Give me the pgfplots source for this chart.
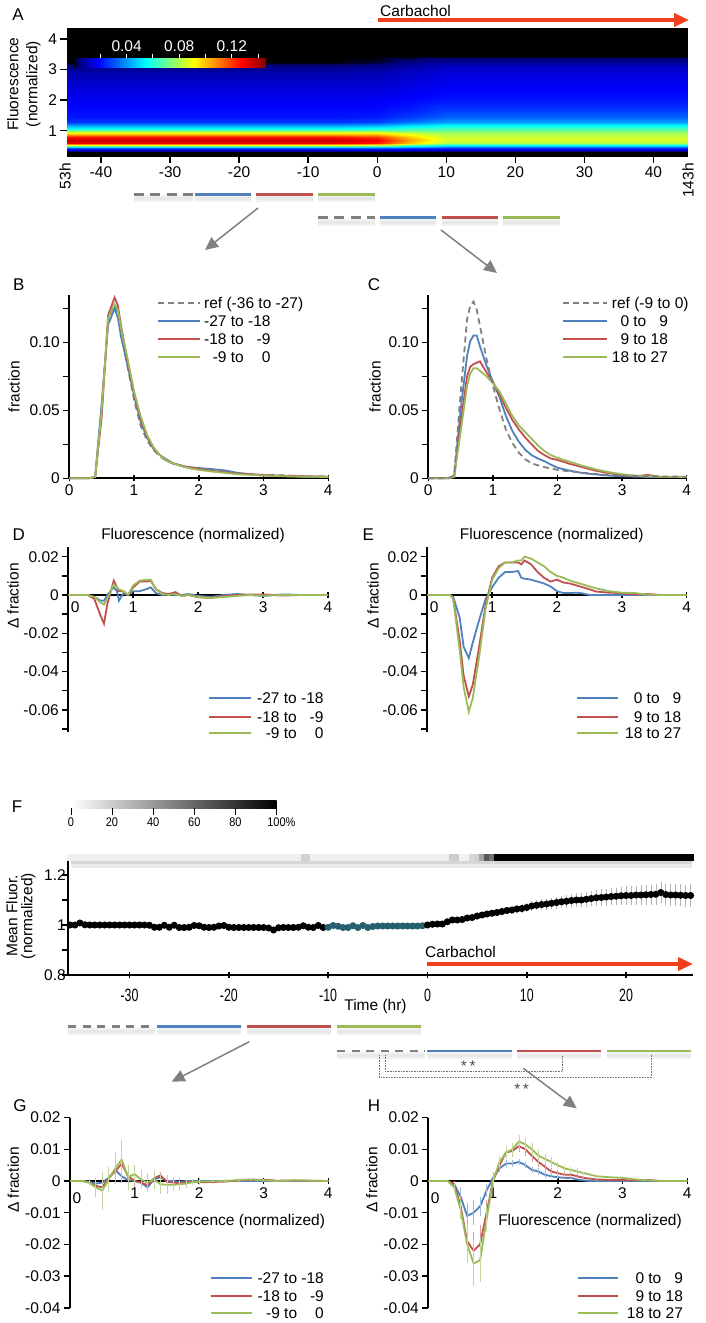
\documentclass[border=0pt]{standalone}
\usepackage{fontspec}
\setmainfont{Liberation Sans}
\usepackage{pgfplots}
\usepackage{pgfplotstable}
\pgfplotsset{compat=1.18}
\usetikzlibrary{arrows.meta}

\newcommand{\fs}{\fontsize{15.5}{18}\selectfont}
\definecolor{sblue}{RGB}{79,129,189}
\definecolor{sred}{RGB}{192,80,77}
\definecolor{sgreen}{RGB}{155,187,89}
\definecolor{sgray}{RGB}{128,128,128}
\definecolor{carb}{RGB}{240,64,30}
\definecolor{tealpt}{RGB}{38,96,110}

\pgfplotsset{
  colormap={heat}{rgb255(0pt)=(0,0,0); rgb255(0.3pt)=(0,0,120); rgb255(1.825pt)=(0,0,255); rgb255(5.475pt)=(0,255,255); rgb255(9.125pt)=(255,255,0); rgb255(12.775pt)=(255,0,0); rgb255(14.6pt)=(128,0,0)},
  colormap={grays}{gray(0pt)=(1); gray(1pt)=(0)},
  panel/.style={scale only axis, enlargelimits=false, clip=false,
    axis y line=left, tick align=outside, scaled ticks=false,
    axis line style={line width=1.8pt},
    every tick/.style={black, line width=1.5pt},
    major tick length=6pt, minor tick length=6pt,
    tick label style={font=\fs}, label style={font=\fs}},
  noarrows/.style={
    every inner x axis line/.append style={-}, every outer x axis line/.append style={-},
    every inner y axis line/.append style={-}, every outer y axis line/.append style={-}},
}

% distributions, panel B
\pgfplotstableread{
v ref b r g
0.0 0 0 0 0
0.3 0 0 0 0
0.4 0.001 0.001 0.001 0.001
0.5 0.052 0.055 0.045 0.050
0.6 0.115 0.113 0.120 0.118
0.7 0.127 0.125 0.133 0.128
0.75 0.122 0.118 0.127 0.124
0.8 0.107 0.104 0.112 0.110
0.9 0.082 0.083 0.086 0.088
1.0 0.058 0.061 0.062 0.064
1.1 0.039 0.042 0.044 0.046
1.2 0.028 0.030 0.031 0.032
1.3 0.021 0.022 0.022 0.023
1.4 0.016 0.017 0.017 0.017
1.5 0.013 0.014 0.013 0.013
1.6 0.011 0.011 0.011 0.011
1.8 0.008 0.0085 0.0085 0.008
2.0 0.0065 0.0075 0.007 0.0062
2.2 0.0055 0.0068 0.0055 0.005
2.4 0.0045 0.0058 0.0045 0.004
2.6 0.0035 0.004 0.0035 0.003
2.8 0.003 0.003 0.003 0.0025
3.0 0.0025 0.0022 0.0023 0.002
3.3 0.0022 0.0018 0.0018 0.0015
3.6 0.0015 0.0012 0.0015 0.0012
4.0 0.0012 0.001 0.0012 0.001
}\Btab

% panel C
\pgfplotstableread{
v ref b r g
0.0 0 0 0 0
0.3 0 0 0 0
0.4 0.002 0.001 0.001 0.001
0.5 0.062 0.050 0.040 0.034
0.6 0.117 0.090 0.075 0.068
0.65 0.127 0.101 0.082 0.077
0.7 0.130 0.105 0.084 0.081
0.75 0.124 0.105 0.085 0.081
0.8 0.112 0.097 0.086 0.079
0.9 0.088 0.083 0.078 0.075
1.0 0.068 0.071 0.071 0.070
1.1 0.051 0.060 0.062 0.064
1.2 0.036 0.046 0.052 0.055
1.3 0.026 0.035 0.043 0.046
1.4 0.019 0.027 0.036 0.039
1.5 0.014 0.021 0.030 0.034
1.6 0.011 0.017 0.025 0.029
1.7 0.0095 0.0145 0.020 0.024
1.8 0.0082 0.0125 0.017 0.020
1.9 0.0072 0.010 0.0145 0.017
2.0 0.0062 0.0078 0.0135 0.015
2.2 0.005 0.0055 0.0105 0.012
2.4 0.004 0.0038 0.008 0.009
2.6 0.0032 0.0028 0.0055 0.0065
2.8 0.0025 0.002 0.0038 0.0045
3.0 0.002 0.0015 0.0025 0.003
3.2 0.0017 0.0012 0.0015 0.002
3.4 0.0015 0.001 0.0025 0.0015
3.6 0.0013 0.001 0.001 0.0012
4.0 0.0012 0.001 0.001 0.001
}\Ctab

% panel D
\pgfplotstableread{
v b r g
0.0 0 0 0
0.3 0 0 0
0.4 -0.001 -0.002 -0.001
0.5 -0.003 -0.011 -0.004
0.55 -0.003 -0.015 -0.005
0.6 0.000 -0.005 -0.002
0.7 0.004 0.0075 0.0055
0.75 0.002 0.004 0.004
0.78 -0.003 0.002 0.003
0.85 0.001 0.002 0.002
0.92 0.000 0.000 0.000
1.0 0.002 0.004 0.005
1.1 0.002 0.007 0.0075
1.2 0.003 0.007 0.008
1.27 0.004 0.0075 0.008
1.35 0.001 0.003 0.003
1.45 0.000 0.001 0.0005
1.55 0.0005 0.0005 0.000
1.65 0.000 0.0015 0.0005
1.75 0.000 -0.0005 -0.0005
1.85 0.0005 0.000 0.000
2.0 -0.0005 -0.0012 -0.001
2.2 -0.001 -0.0015 -0.0015
2.4 0.000 -0.0005 -0.001
2.6 0.0005 0.000 -0.0005
2.8 0.000 0.0002 0.000
3.0 -0.0005 0.0003 -0.0003
3.3 0.0003 -0.0003 0.000
3.6 0 0 0
4.0 0 0 0
}\Dtab

% panel E
\pgfplotstableread{
v b r g
0.0 0 0 0
0.35 0 0 0
0.4 -0.001 -0.002 -0.002
0.5 -0.012 -0.024 -0.029
0.56 -0.027 -0.042 -0.048
0.64 -0.033 -0.053 -0.061
0.7 -0.025 -0.047 -0.054
0.8 -0.013 -0.027 -0.032
0.9 -0.002 -0.005 -0.007
1.0 0.004 0.009 0.008
1.1 0.009 0.015 0.014
1.2 0.012 0.017 0.017
1.3 0.012 0.017 0.017
1.4 0.0125 0.017 0.018
1.45 0.009 0.016 0.018
1.5 0.0085 0.018 0.020
1.6 0.008 0.016 0.019
1.7 0.007 0.012 0.017
1.8 0.006 0.009 0.015
1.9 0.0045 0.007 0.012
2.0 0.002 0.008 0.010
2.1 0.001 0.0065 0.009
2.2 0.001 0.006 0.0075
2.3 0.0012 0.005 0.0065
2.4 0.0008 0.004 0.0055
2.5 0 0.003 0.0045
2.6 0 0.0018 0.0035
2.8 0 0.0012 0.002
3.0 0 0.001 0.0012
3.2 0 0.0002 0.001
3.4 0 0.0005 0.0002
3.6 0 0 0
4.0 0 0 0
}\Etab

% panel G (with errors)
\pgfplotstableread{
v b r g eb er eg
0.0 0 0 0 0 0 0
0.2 0 0 0 0 0 0
0.3 -0.0003 -0.0005 -0.0005 0.0005 0.001 0.001
0.4 -0.0008 -0.0015 -0.002 0.001 0.002 0.003
0.5 -0.0005 -0.002 -0.003 0.002 0.003 0.006
0.6 0.001 0.001 0.0005 0.002 0.003 0.004
0.7 0.0035 0.003 0.004 0.002 0.003 0.005
0.8 0.0015 0.0055 0.0068 0.002 0.004 0.006
0.9 0.0003 0.0015 0.0012 0.001 0.002 0.004
1.0 0.000 0.000 0.0022 0.001 0.002 0.003
1.1 -0.0005 -0.0005 0.0005 0.001 0.001 0.003
1.2 -0.002 -0.0013 -0.0005 0.001 0.001 0.003
1.3 0.0005 0.0008 0.0005 0.001 0.001 0.003
1.4 0.0012 0.0018 -0.001 0.001 0.001 0.003
1.5 0 -0.0002 -0.0012 0.001 0.001 0.003
1.6 0 -0.0005 -0.0012 0.0005 0.001 0.002
1.7 -0.0003 -0.0007 -0.001 0.0005 0.001 0.002
1.8 0 -0.0003 -0.0008 0.0005 0.001 0.0015
1.9 0 -0.0002 -0.0004 0.0005 0.0005 0.001
2.0 0 -0.0004 -0.0002 0.0005 0.0005 0.001
2.2 0 -0.0003 -0.0001 0 0.0005 0.0005
2.4 0 -0.0002 0 0 0.0005 0.0005
2.6 0 0.0002 0.0003 0 0.0005 0.0005
2.8 0 0.0004 0.0005 0 0.0003 0.0003
3.0 0 0.0004 0.0002 0 0.0003 0.0003
3.2 0 0.0001 0 0 0 0
3.5 0 0.0002 0.0002 0 0 0
4.0 0 0 0 0 0 0
}\Gtab

% panel H (with errors)
\pgfplotstableread{
v b r g eb er eg
0.0 0 0 0 0 0 0
0.3 0 0 0 0 0 0
0.4 -0.001 -0.001 -0.002 0.001 0.001 0.001
0.5 -0.005 -0.008 -0.009 0.003 0.003 0.003
0.6 -0.011 -0.019 -0.020 0.004 0.006 0.006
0.7 -0.010 -0.022 -0.026 0.004 0.006 0.007
0.8 -0.008 -0.020 -0.025 0.003 0.006 0.007
0.9 -0.003 -0.010 -0.012 0.002 0.004 0.004
1.0 0.001 0.000 0.000 0.002 0.002 0.002
1.1 0.004 0.005 0.006 0.001 0.002 0.002
1.2 0.0055 0.009 0.009 0.001 0.002 0.002
1.3 0.0055 0.0095 0.010 0.001 0.002 0.002
1.4 0.006 0.011 0.0125 0.001 0.002 0.002
1.5 0.005 0.010 0.0115 0.001 0.002 0.002
1.6 0.0035 0.008 0.010 0.001 0.002 0.002
1.7 0.003 0.006 0.008 0.001 0.0015 0.002
1.8 0.002 0.0045 0.007 0.001 0.0015 0.0015
1.9 0.0015 0.003 0.006 0.0005 0.001 0.0015
2.0 0.0012 0.0025 0.005 0.0005 0.001 0.001
2.1 0.001 0.002 0.004 0.0005 0.001 0.001
2.2 0.001 0.002 0.0035 0.0005 0.001 0.001
2.3 0.0005 0.0015 0.003 0 0.0005 0.001
2.4 0.0002 0.001 0.0025 0 0.0005 0.0005
2.5 0 0.0007 0.002 0 0.0005 0.0005
2.6 0 0.0005 0.0015 0 0.0005 0.0005
2.8 0 0.0003 0.0012 0 0 0
3.0 0 0.0003 0.001 0 0 0
3.2 0 0.0002 0.0005 0 0 0
3.4 0 0.0003 0.0002 0 0 0
3.6 0 0 0 0 0 0
4.0 0 0 0 0 0 0
}\Htab

% panel F mean fluorescence
\pgfplotstableread{
t m
-36 1.000
-35.5 1.000
-35 1.008
-34.5 1.001
-34 1.000
-33.5 1.000
-33 1.000
-32.5 1.000
-32 1.000
-31.5 1.000
-31 1.000
-30.5 1.000
-30 1.000
-29.5 1.000
-29 1.000
-28.5 1.000
-28 0.999
-27.5 0.991
-27 0.991
-26.5 0.999
-26 0.991
-25.5 0.999
-25 0.990
-24.5 0.990
-24 0.991
-23.5 0.998
-23 0.997
-22.5 0.991
-22 0.990
-21.5 0.991
-21 0.996
-20.5 0.998
-20 0.991
-19.5 0.990
-19 0.990
-18.5 0.990
-18 0.990
-17.5 0.990
-17 0.990
-16.5 0.990
-16 0.988
-15.5 0.980
-15 0.989
-14.5 0.990
-14 0.990
-13.5 0.990
-13 0.991
-12.5 0.997
-12 0.991
-11.5 0.990
-11 0.998
-10.5 0.990
}\Fpre

\pgfplotstableread{
t m
-10 0.991
-9.5 0.998
-9 0.995
-8.5 0.990
-8 0.990
-7.5 0.997
-7 0.990
-6.5 0.998
-6 0.990
-5.5 0.994
-5 0.996
-4.5 0.996
-4 0.996
-3.5 0.996
-3 0.996
-2.5 0.996
-2 0.996
-1.5 0.996
-1 0.996
-0.5 0.997
}\Fmid

\pgfplotstableread{
t m e
0 1.000 0.000
0.5 1.003 0.002
1 1.004 0.003
1.5 1.004 0.004
2 1.013 0.005
2.5 1.020 0.006
3 1.020 0.007
3.5 1.022 0.007
4 1.028 0.008
4.5 1.030 0.009
5 1.036 0.010
5.5 1.040 0.011
6 1.044 0.012
6.5 1.047 0.012
7 1.050 0.013
7.5 1.054 0.014
8 1.058 0.015
8.5 1.060 0.016
9 1.064 0.016
9.5 1.066 0.017
10 1.070 0.018
10.5 1.076 0.019
11 1.079 0.020
11.5 1.082 0.021
12 1.084 0.022
12.5 1.087 0.023
13 1.090 0.024
13.5 1.093 0.025
14 1.095 0.026
14.5 1.098 0.027
15 1.100 0.028
15.5 1.100 0.029
16 1.103 0.030
16.5 1.106 0.031
17 1.109 0.032
17.5 1.110 0.033
18 1.112 0.034
18.5 1.114 0.035
19 1.115 0.035
19.5 1.117 0.036
20 1.118 0.037
20.5 1.118 0.037
21 1.120 0.038
21.5 1.120 0.039
22 1.121 0.040
22.5 1.122 0.040
23 1.123 0.041
23.5 1.130 0.042
24 1.122 0.042
24.5 1.120 0.043
25 1.120 0.043
25.5 1.119 0.044
26 1.118 0.044
26.5 1.118 0.045
}\Fpost

\newcommand{\leg}[6]{%
  \draw[#5, line width=1.8pt] (#1,#4) -- (#2,#4);
  \node[anchor=base west, inner sep=0pt, font=\fs] at (#3,#4+5.6) {#6};}

\begin{document}
\begin{tikzpicture}
\path[use as bounding box] (0pt,0pt) rectangle (705pt,-1323pt);

% soft shadows under the time bars
\begin{scope}[x=1pt,y=-1pt]
\foreach \a/\b/\y in {133.5/193/194.3, 195/251/194.3, 256/312.5/194.3, 317.5/374.5/194.3,
  317.5/374.5/217.7, 380/436/217.7, 441.5/498/217.7, 502.7/560/217.7,
  68.3/155/1026.7, 157.3/240.7/1026.7, 247.3/330.7/1026.7, 337.3/420.7/1026.7,
  337.3/425/1051, 427.3/511.7/1051, 517.3/600.7/1051, 607.3/690.7/1051} {
  \draw[black!5, line width=7pt] (\a,\y+4.5) -- (\b,\y+4.5);
  \draw[black!9, line width=3pt] (\a,\y+4.5) -- (\b,\y+4.5);
}
\draw[black!8, line width=9pt] (71,863) -- (692,863);
\draw[black!16, line width=4pt] (71,862) -- (692,862);
\end{scope}

% ---------------- A: heat map
\begin{axis}[scale only axis, width=621.5pt, height=128.4pt, at={(66.5pt,-156.7pt)}, anchor=south west,
  xmin=-45, xmax=45, ymin=0.15, ymax=4.35, enlargelimits=false,
  axis x line=bottom, axis y line=left, axis line style={draw=none},
  tick align=outside, every tick/.style={black, line width=1.5pt}, major tick length=6pt,
  xtick={-40,-30,-20,-10,0,10,20,30,40}, xticklabels={-40,-30,-20,-10,0,10,20,30,40},
  ytick={1,2,3,4}, yticklabels={1,2,3,4}, tick label style={font=\fs},
  ylabel={Fluorescence\\(normalized)},
  ylabel style={align=center, font=\fontsize{15.5}{19}\selectfont, at={(axis description cs:-0.0684,0.566)}, anchor=center},
  colormap name=heat, point meta min=0, point meta max=0.146, noarrows]
\addplot[surf, shader=interp, mesh/cols=6, point meta=explicit] coordinates {
(-45,0.15)[0] (-6,0.15)[0] (0,0.15)[0] (5,0.15)[0] (10,0.15)[0] (45,0.15)[0]
(-45,0.30)[0] (-6,0.30)[0] (0,0.30)[0] (5,0.30)[0] (10,0.30)[0] (45,0.30)[0]
(-45,0.36)[0.012] (-6,0.36)[0.012] (0,0.36)[0.012] (5,0.36)[0.011] (10,0.36)[0.010] (45,0.36)[0.010]
(-45,0.45)[0.030] (-6,0.45)[0.030] (0,0.45)[0.030] (5,0.45)[0.028] (10,0.45)[0.025] (45,0.45)[0.025]
(-45,0.52)[0.090] (-6,0.52)[0.090] (0,0.52)[0.085] (5,0.52)[0.068] (10,0.52)[0.056] (45,0.52)[0.056]
(-45,0.60)[0.130] (-6,0.60)[0.130] (0,0.60)[0.125] (5,0.60)[0.098] (10,0.60)[0.080] (45,0.60)[0.080]
(-45,0.70)[0.136] (-6,0.70)[0.136] (0,0.70)[0.130] (5,0.70)[0.103] (10,0.70)[0.086] (45,0.70)[0.086]
(-45,0.80)[0.125] (-6,0.80)[0.125] (0,0.80)[0.120] (5,0.80)[0.098] (10,0.80)[0.084] (45,0.80)[0.084]
(-45,0.88)[0.100] (-6,0.88)[0.100] (0,0.88)[0.100] (5,0.88)[0.088] (10,0.88)[0.080] (45,0.88)[0.080]
(-45,0.95)[0.085] (-6,0.95)[0.085] (0,0.95)[0.085] (5,0.95)[0.078] (10,0.95)[0.075] (45,0.95)[0.075]
(-45,1.05)[0.058] (-6,1.05)[0.058] (0,1.05)[0.060] (5,1.05)[0.064] (10,1.05)[0.066] (45,1.05)[0.066]
(-45,1.18)[0.040] (-6,1.18)[0.040] (0,1.18)[0.042] (5,1.18)[0.049] (10,1.18)[0.053] (45,1.18)[0.053]
(-45,1.30)[0.026] (-6,1.30)[0.026] (0,1.30)[0.028] (5,1.30)[0.035] (10,1.30)[0.041] (45,1.30)[0.041]
(-45,1.45)[0.021] (-6,1.45)[0.021] (0,1.45)[0.022] (5,1.45)[0.027] (10,1.45)[0.032] (45,1.45)[0.032]
(-45,1.70)[0.019] (-6,1.70)[0.019] (0,1.70)[0.019] (5,1.70)[0.022] (10,1.70)[0.026] (45,1.70)[0.026]
(-45,2.00)[0.017] (-6,2.00)[0.017] (0,2.00)[0.017] (5,2.00)[0.019] (10,2.00)[0.021] (45,2.00)[0.021]
(-45,2.50)[0.013] (-6,2.50)[0.013] (0,2.50)[0.013] (5,2.50)[0.015] (10,2.50)[0.017] (45,2.50)[0.017]
(-45,2.90)[0.009] (-6,2.90)[0.009] (0,2.90)[0.010] (5,2.90)[0.012] (10,2.90)[0.014] (45,2.90)[0.014]
(-45,3.10)[0.005] (-6,3.10)[0.005] (0,3.10)[0.006] (5,3.10)[0.009] (10,3.10)[0.012] (45,3.10)[0.012]
(-45,3.25)[0] (-6,3.25)[0] (0,3.25)[0.001] (5,3.25)[0.004] (10,3.25)[0.007] (45,3.25)[0.007]
(-45,3.45)[0] (-6,3.45)[0] (0,3.45)[0] (5,3.45)[0] (10,3.45)[0] (45,3.45)[0]
(-45,4.35)[0] (-6,4.35)[0] (0,4.35)[0] (5,4.35)[0] (10,4.35)[0] (45,4.35)[0]
};
\end{axis}

% colour bar of A
\begin{axis}[scale only axis, width=192pt, height=9pt, at={(74pt,-67.3pt)}, anchor=south west,
  xmin=0, xmax=0.146, ymin=0, ymax=1, enlargelimits=false,
  axis x line=top, axis y line=none, axis line style={draw=none},
  xtick={0.04,0.08,0.12}, xticklabels={0.04,0.08,0.12}, minor xtick={0.02,0.06,0.10,0.14},
  tick align=outside, every tick/.style={white, line width=1pt}, major tick length=4pt, minor tick length=4pt,
  xticklabel style={white, font=\fs, yshift=-1pt},
  colormap name=heat, point meta min=0, point meta max=0.146, noarrows]
\addplot[surf, shader=interp, mesh/cols=7, point meta=x] coordinates {
(0,0) (0.003,0) (0.01825,0) (0.05475,0) (0.09125,0) (0.12775,0) (0.146,0)
(0,1) (0.003,1) (0.01825,1) (0.05475,1) (0.09125,1) (0.12775,1) (0.146,1)};
\end{axis}

% ---------------- B
\begin{axis}[panel, axis x line=bottom, width=259pt, height=183.3pt, at={(69.3pt,-478.3pt)}, anchor=south west,
  xmin=0, xmax=4, ymin=0, ymax=0.1348,
  xtick={0,1,2,3,4}, xticklabels={0,1,2,3,4},
  ytick={0,0.05,0.1}, yticklabels={0,0.05,0.10}, minor ytick={0.025,0.075,0.125},
  xlabel={Fluorescence (normalized)}, xlabel style={font=\fs, at={(axis description cs:0.4776,-0.3093)}, anchor=center},
  ylabel={fraction}, ylabel style={font=\fs, at={(axis description cs:-0.2135,0.5)}, anchor=center}, noarrows]
\addplot[sgray, line width=1.8pt, dash pattern=on 6pt off 4pt] table[x=v,y=ref] \Btab;
\addplot[sblue, line width=1.8pt] table[x=v,y=b] \Btab;
\addplot[sred, line width=1.8pt] table[x=v,y=r] \Btab;
\addplot[sgreen, line width=1.8pt] table[x=v,y=g] \Btab;
\end{axis}

% ---------------- C
\begin{axis}[panel, axis x line=bottom, width=258.4pt, height=183.3pt, at={(428.3pt,-478.3pt)}, anchor=south west,
  xmin=0, xmax=4, ymin=0, ymax=0.1348,
  xtick={0,1,2,3,4}, xticklabels={0,1,2,3,4},
  ytick={0,0.05,0.1}, yticklabels={0,0.05,0.10}, minor ytick={0.025,0.075,0.125},
  xlabel={Fluorescence (normalized)}, xlabel style={font=\fs, at={(axis description cs:0.4776,-0.3093)}, anchor=center},
  ylabel={fraction}, ylabel style={font=\fs, at={(axis description cs:-0.206,0.5)}, anchor=center}, noarrows]
\addplot[sblue, line width=1.8pt] table[x=v,y=b] \Ctab;
\addplot[sred, line width=1.8pt] table[x=v,y=r] \Ctab;
\addplot[sgreen, line width=1.8pt] table[x=v,y=g] \Ctab;
\addplot[sgray, line width=1.8pt, dash pattern=on 6pt off 4pt] table[x=v,y=ref] \Ctab;
\end{axis}

% ---------------- D
\begin{axis}[panel, axis x line=middle, width=259.7pt, height=184.8pt, at={(68.3pt,-731.9pt)}, anchor=south west,
  xmin=0, xmax=4, ymin=-0.0715, ymax=0.025,
  xtick={1,2,3,4}, xticklabels={1,2,3,4},
  ytick={-0.06,-0.04,-0.02,0,0.02}, yticklabels={-0.06,-0.04,-0.02,0,0.02},
  minor ytick={-0.07,-0.05,-0.03,-0.01,0.01},
  ylabel={Δ fraction}, ylabel style={font=\fs, at={(axis description cs:-0.213,0.735)}, anchor=center}, noarrows]
\addplot[sblue, line width=1.8pt] table[x=v,y=b] \Dtab;
\addplot[sred, line width=1.8pt] table[x=v,y=r] \Dtab;
\addplot[sgreen, line width=1.8pt] table[x=v,y=g] \Dtab;
\end{axis}

% ---------------- E
\begin{axis}[panel, axis x line=middle, width=259.4pt, height=184.8pt, at={(427.3pt,-731.9pt)}, anchor=south west,
  xmin=0, xmax=4, ymin=-0.0715, ymax=0.025,
  xtick={1,2,3,4}, xticklabels={1,2,3,4},
  ytick={-0.06,-0.04,-0.02,0,0.02}, yticklabels={-0.06,-0.04,-0.02,0,0.02},
  minor ytick={-0.07,-0.05,-0.03,-0.01,0.01},
  ylabel={Δ fraction}, ylabel style={font=\fs, at={(axis description cs:-0.209,0.735)}, anchor=center}, noarrows]
\addplot[sblue, line width=1.8pt] table[x=v,y=b] \Etab;
\addplot[sred, line width=1.8pt] table[x=v,y=r] \Etab;
\addplot[sgreen, line width=1.8pt] table[x=v,y=g] \Etab;
\end{axis}

% ---------------- F
\begin{axis}[panel, axis x line=bottom, width=624.2pt, height=120pt, at={(68.3pt,-975pt)}, anchor=south west,
  xmin=-36.17, xmax=26.69, ymin=0.8, ymax=1.28,
  xtick={-30,-20,-10,0,10,20}, xticklabels={-30,-20,-10,0,10,20},
  xticklabel style={xscale=0.8, yscale=1.15, yshift=-6pt},
  ytick={0.8,1,1.2}, yticklabels={0.8,1,1.2}, minor ytick={0.9,1.1},
  yticklabel style={xshift=7pt},
  xlabel={Time (hr)}, xlabel style={font=\fs, at={(axis description cs:0.4922,-0.264)}, anchor=center},
  ylabel={Mean Fluor.\\(normalized)},
  ylabel style={align=center, font=\fontsize{15.5}{15}\selectfont, at={(axis description cs:-0.0758,0.492)}, anchor=center},
  colormap name=grays, point meta min=0, point meta max=100, noarrows]
\addplot[scatter, only marks, mark=square*, mark size=2.6pt, mark options={yscale=1.15},
  scatter/use mapped color={draw=mapped color, fill=mapped color}, point meta=explicit] coordinates {
(-36,1.272)[6] (-35.5,1.272)[6] (-35,1.272)[6] (-34.5,1.272)[6] (-34,1.272)[6] (-33.5,1.272)[6]
(-33,1.272)[6] (-32.5,1.272)[6] (-32,1.272)[6] (-31.5,1.272)[6] (-31,1.272)[6] (-30.5,1.272)[6]
(-30,1.272)[6] (-29.5,1.272)[6] (-29,1.272)[6] (-28.5,1.272)[6] (-28,1.272)[6] (-27.5,1.272)[6]
(-27,1.272)[6] (-26.5,1.272)[6] (-26,1.272)[6] (-25.5,1.272)[6] (-25,1.272)[6] (-24.5,1.272)[6]
(-24,1.272)[6] (-23.5,1.272)[6] (-23,1.272)[6] (-22.5,1.272)[6] (-22,1.272)[6] (-21.5,1.272)[6]
(-21,1.272)[6] (-20.5,1.272)[6] (-20,1.272)[6] (-19.5,1.272)[6] (-19,1.272)[6] (-18.5,1.272)[6]
(-18,1.272)[6] (-17.5,1.272)[6] (-17,1.272)[6] (-16.5,1.272)[6] (-16,1.272)[6] (-15.5,1.272)[6]
(-15,1.272)[6] (-14.5,1.272)[6] (-14,1.272)[6] (-13.5,1.272)[6] (-13,1.272)[6]
(-12.5,1.272)[18] (-12,1.272)[18]
(-11.5,1.272)[6] (-11,1.272)[6] (-10.5,1.272)[6] (-10,1.272)[6] (-9.5,1.272)[6] (-9,1.272)[6]
(-8.5,1.272)[6] (-8,1.272)[6] (-7.5,1.272)[6] (-7,1.272)[6] (-6.5,1.272)[6] (-6,1.272)[6]
(-5.5,1.272)[6] (-5,1.272)[6] (-4.5,1.272)[6] (-4,1.272)[6] (-3.5,1.272)[6] (-3,1.272)[6]
(-2.5,1.272)[6] (-2,1.272)[6] (-1.5,1.272)[6] (-1,1.272)[6] (-0.5,1.272)[6] (0,1.272)[6]
(0.5,1.272)[6] (1,1.272)[6] (1.5,1.272)[6] (2,1.272)[6]
(2.5,1.272)[20] (3,1.272)[20] (3.5,1.272)[5] (4,1.272)[5] (4.5,1.272)[15] (5,1.272)[18]
(5.5,1.272)[35] (6,1.272)[65] (6.5,1.272)[55]
(7,1.272)[100] (7.5,1.272)[100] (8,1.272)[100] (8.5,1.272)[100] (9,1.272)[100] (9.5,1.272)[100]
(10,1.272)[100] (10.5,1.272)[100] (11,1.272)[100] (11.5,1.272)[100] (12,1.272)[100] (12.5,1.272)[100]
(13,1.272)[100] (13.5,1.272)[100] (14,1.272)[100] (14.5,1.272)[100] (15,1.272)[100] (15.5,1.272)[100]
(16,1.272)[100] (16.5,1.272)[100] (17,1.272)[100] (17.5,1.272)[100] (18,1.272)[100] (18.5,1.272)[100]
(19,1.272)[100] (19.5,1.272)[100] (20,1.272)[100] (20.5,1.272)[100] (21,1.272)[100] (21.5,1.272)[100]
(22,1.272)[100] (22.5,1.272)[100] (23,1.272)[100] (23.5,1.272)[100] (24,1.272)[100] (24.5,1.272)[100]
(25,1.272)[100] (25.5,1.272)[100] (26,1.272)[100] (26.5,1.272)[100]
};
\addplot[black, line width=1pt, mark=*, mark size=3pt] table[x=t,y=m] \Fpre;
\addplot[tealpt, line width=1pt, mark=*, mark size=3pt] table[x=t,y=m] \Fmid;
\addplot[black, line width=1pt, mark=*, mark size=3pt,
  error bars/.cd, y dir=both, y explicit, error bar style={gray!60, line width=0.6pt}, error mark=none]
  table[x=t,y=m,y error=e] \Fpost;
\end{axis}

% ---------------- G
\begin{axis}[panel, axis x line=middle, width=258.3pt, height=190.2pt, at={(70pt,-1307.8pt)}, anchor=south west,
  xmin=0, xmax=4, ymin=-0.04, ymax=0.02,
  xtick={1,2,3,4}, xticklabels={1,2,3,4},
  ytick={-0.04,-0.03,-0.02,-0.01,0,0.01,0.02}, yticklabels={-0.04,-0.03,-0.02,-0.01,0,0.01,0.02},
  xlabel={Fluorescence (normalized)}, xlabel style={font=\fs, at={(axis description cs:0.632,0.4527)}, anchor=center},
  ylabel={Δ fraction}, ylabel style={font=\fs, at={(axis description cs:-0.2195,0.672)}, anchor=center}, noarrows]
\addplot[sblue, line width=1.8pt, error bars/.cd, y dir=both, y explicit, error bar style={sblue!55, line width=0.7pt}, error mark=none] table[x=v,y=b,y error=eb] \Gtab;
\addplot[sred, line width=1.8pt, error bars/.cd, y dir=both, y explicit, error bar style={sred!55, line width=0.7pt}, error mark=none] table[x=v,y=r,y error=er] \Gtab;
\addplot[sgreen, line width=1.8pt, error bars/.cd, y dir=both, y explicit, error bar style={sgreen!60, line width=0.7pt}, error mark=none] table[x=v,y=g,y error=eg] \Gtab;
\end{axis}

% ---------------- H
\begin{axis}[panel, axis x line=middle, width=259pt, height=190.2pt, at={(428.3pt,-1307.8pt)}, anchor=south west,
  xmin=0, xmax=4, ymin=-0.04, ymax=0.02,
  xtick={1,2,3,4}, xticklabels={1,2,3,4},
  ytick={-0.04,-0.03,-0.02,-0.01,0,0.01,0.02}, yticklabels={-0.04,-0.03,-0.02,-0.01,0,0.01,0.02},
  xlabel={Fluorescence (normalized)}, xlabel style={font=\fs, at={(axis description cs:0.6243,0.4527)}, anchor=center},
  ylabel={Δ fraction}, ylabel style={font=\fs, at={(axis description cs:-0.2185,0.672)}, anchor=center}, noarrows]
\addplot[sblue, line width=1.8pt, error bars/.cd, y dir=both, y explicit, error bar style={sblue!55, line width=0.7pt}, error mark=none] table[x=v,y=b,y error=eb] \Htab;
\addplot[sred, line width=1.8pt, error bars/.cd, y dir=both, y explicit, error bar style={sred!55, line width=0.7pt}, error mark=none] table[x=v,y=r,y error=er] \Htab;
\addplot[sgreen, line width=1.8pt, error bars/.cd, y dir=both, y explicit, error bar style={sgreen!60, line width=0.7pt}, error mark=none] table[x=v,y=g,y error=eg] \Htab;
\end{axis}

% ---------------- annotations
\begin{scope}[x=1pt,y=-1pt]
% panel letters
\foreach \l/\x/\y in {A/18/15, B/18.7/285, C/374/285, D/18.7/535, E/368.3/535, F/17/806.7, G/20/1106, H/374/1106}
  \node[font=\fontsize{17}{20}\selectfont] at (\x,\y) {\l};
% zero labels of the difference plots
\foreach \x/\y in {75.3/607.5, 434.3/607.5, 77/1198.3, 435.3/1198.3}
  \node[font=\fs, inner sep=0pt] at (\x,\y) {0};
% carbachol
\node[anchor=base west, inner sep=0pt, font=\fs] at (380,16.5) {Carbachol};
\draw[carb, line width=4pt, -{Triangle[length=15pt,width=13pt]}] (377.7,20) -- (689,20);
\node[anchor=base west, inner sep=0pt, font=\fs] at (425,957.5) {Carbachol};
\draw[carb, line width=4pt, -{Triangle[length=15pt,width=13pt]}] (427.2,964) -- (693,964);
% heat map end labels
\node[rotate=90, anchor=east, font=\fs, inner sep=0pt] at (65,163) {53h};
\node[rotate=90, anchor=east, font=\fs, inner sep=0pt] at (688,163) {143h};
% time windows under A
\draw[sgray, line width=2.8pt, dash pattern=on 10pt off 6.5pt] (133.5,194.3) -- (193,194.3);
\draw[sblue, line width=2.8pt] (195,194.3) -- (251,194.3);
\draw[sred, line width=2.8pt] (256,194.3) -- (312.5,194.3);
\draw[sgreen, line width=2.8pt] (317.5,194.3) -- (374.5,194.3);
\draw[sgray, line width=2.8pt, dash pattern=on 10pt off 6.5pt] (317.5,217.7) -- (374.5,217.7);
\draw[sblue, line width=2.8pt] (380,217.7) -- (436,217.7);
\draw[sred, line width=2.8pt] (441.5,217.7) -- (498,217.7);
\draw[sgreen, line width=2.8pt] (502.7,217.7) -- (560,217.7);
% time windows under F
\draw[sgray, line width=2.8pt, dash pattern=on 8pt off 6.5pt] (68.3,1026.7) -- (155,1026.7);
\draw[sblue, line width=2.8pt] (157.3,1026.7) -- (240.7,1026.7);
\draw[sred, line width=2.8pt] (247.3,1026.7) -- (330.7,1026.7);
\draw[sgreen, line width=2.8pt] (337.3,1026.7) -- (420.7,1026.7);
\draw[sgray, line width=2.8pt, dash pattern=on 8pt off 6.5pt] (337.3,1051) -- (425,1051);
\draw[sblue, line width=2.8pt] (427.3,1051) -- (511.7,1051);
\draw[sred, line width=2.8pt] (517.3,1051) -- (600.7,1051);
\draw[sgreen, line width=2.8pt] (607.3,1051) -- (690.7,1051);
% significance brackets
\draw[black!55, line width=0.6pt, densely dotted] (385,1055) -- (385,1071) -- (562.3,1071) -- (562.3,1055);
\draw[black!55, line width=0.6pt, densely dotted] (379.3,1055) -- (379.3,1077.3) -- (651.7,1077.3) -- (651.7,1055);
\node[font=\fs, text=black!70] at (468.3,1066.5) {*\,*};
\node[font=\fs, text=black!70] at (521.7,1089) {*\,*};
% grey arrows
\draw[sgray, line width=1.5pt, -{Triangle[length=13pt,width=12pt]}] (258,208) -- (205,250);
\draw[sgray, line width=1.5pt, -{Triangle[length=13pt,width=12pt]}] (441,230) -- (497,273);
\draw[sgray, line width=1.5pt, -{Triangle[length=13pt,width=12pt]}] (249.3,1041.7) -- (171.7,1081.7);
\draw[sgray, line width=1.5pt, -{Triangle[length=13pt,width=12pt]}] (523.3,1068.3) -- (576.7,1108.3);
% percent scale of F
\shade[left color=white, right color=black] (71,800) rectangle (276.5,808.3);
\foreach \x/\t in {71/0, 112/20, 153.2/40, 194.3/60, 235.4/80, 276.5/100\rlap{\%}} {
  \draw[black, line width=1pt] (\x,808.3) -- (\x,815);
  \node[font=\fontsize{12.5}{14}\selectfont, xscale=0.88, inner sep=0pt] at (\x,822) {\t};
}
% legends
\leg{158}{200}{204}{302.7}{sgray, dash pattern=on 6pt off 4pt}{ref (-36 to -27)}
\leg{158}{200}{204}{320.7}{sblue}{-27 to -18}
\leg{158}{200}{204}{339.3}{sred}{-18 to \phantom{1}-9}
\leg{158}{200}{204}{357.3}{sgreen}{\phantom{1}-9 to \phantom{-1}0}
\leg{563}{606.7}{611.7}{302.7}{sgray, dash pattern=on 6pt off 4pt}{ref (-9 to 0)}
\leg{563}{606.7}{611.7}{320.7}{sblue}{\phantom{1}0 to \phantom{1}9}
\leg{563}{606.7}{611.7}{339.3}{sred}{\phantom{1}9 to 18}
\leg{563}{606.7}{611.7}{357.3}{sgreen}{18 to 27}
\leg{209}{251}{257}{698.3}{sblue}{-27 to -18}
\leg{209}{251}{257}{716.7}{sred}{-18 to \phantom{1}-9}
\leg{209}{251}{257}{733.3}{sgreen}{\phantom{1}-9 to \phantom{-1}0}
\leg{577}{618}{625}{698.3}{sblue}{\phantom{1}0 to \phantom{1}9}
\leg{577}{618}{625}{716.7}{sred}{\phantom{1}9 to 18}
\leg{577}{618}{625}{733.3}{sgreen}{18 to 27}
\leg{210.7}{251.7}{257.3}{1278.3}{sblue}{-27 to -18}
\leg{210.7}{251.7}{257.3}{1296}{sred}{-18 to \phantom{1}-9}
\leg{210.7}{251.7}{257.3}{1313.3}{sgreen}{\phantom{1}-9 to \phantom{-1}0}
\leg{578.3}{618.3}{626.7}{1278.3}{sblue}{\phantom{1}0 to \phantom{1}9}
\leg{578.3}{618.3}{626.7}{1296}{sred}{\phantom{1}9 to 18}
\leg{578.3}{618.3}{626.7}{1313.3}{sgreen}{18 to 27}
\end{scope}
\end{tikzpicture}
\end{document}
